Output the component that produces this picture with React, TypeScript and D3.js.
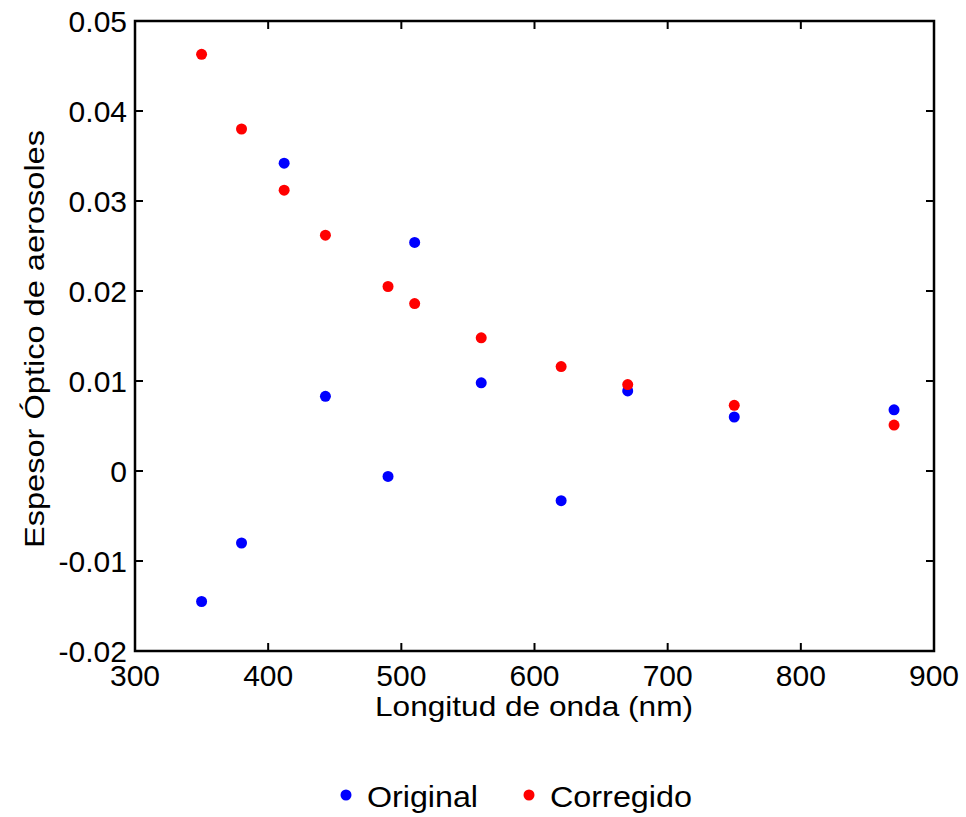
import React, { useEffect, useRef } from 'react'
import * as d3 from 'd3'

const wavelengths = [350, 380, 412, 443, 490, 510, 560, 620, 670, 750, 870]
const original = [-0.0145, -0.008, 0.0342, 0.0083, -0.0006, 0.0254, 0.0098, -0.0033, 0.0089, 0.006, 0.0068]
const corregido = [0.0463, 0.038, 0.0312, 0.0262, 0.0205, 0.0186, 0.0148, 0.0116, 0.0096, 0.0073, 0.0051]
const xTicks = [300, 400, 500, 600, 700, 800, 900]
const yTicks = [-0.02, -0.01, 0, 0.01, 0.02, 0.03, 0.04, 0.05]

const W = 966
const H = 817
const FONT = '"Liberation Sans", Arial, sans-serif'

const x = d3.scaleLinear().domain([300, 900]).range([135, 934])
const y = d3.scaleLinear().domain([-0.02, 0.05]).range([651, 21])

const App = () => {
  const ref = useRef<SVGSVGElement>(null)

  useEffect(() => {
    const svg = d3.select(ref.current)
    svg.selectAll('*').remove()

    const [x0, x1] = x.range()
    const [y0, y1] = y.range()
    const tick = 8

    // box
    svg
      .append('rect')
      .attr('x', x0)
      .attr('y', y1)
      .attr('width', x1 - x0)
      .attr('height', y0 - y1)
      .attr('fill', 'none')
      .attr('stroke', 'black')
      .attr('stroke-width', 2.5)

    // ticks inside on all four sides
    const g = svg.append('g').attr('stroke', 'black').attr('stroke-width', 2)
    xTicks.forEach((t) => {
      g.append('line').attr('x1', x(t)).attr('x2', x(t)).attr('y1', y0).attr('y2', y0 - tick)
      g.append('line').attr('x1', x(t)).attr('x2', x(t)).attr('y1', y1).attr('y2', y1 + tick)
    })
    yTicks.forEach((t) => {
      g.append('line').attr('x1', x0).attr('x2', x0 + tick).attr('y1', y(t)).attr('y2', y(t))
      g.append('line').attr('x1', x1).attr('x2', x1 - tick).attr('y1', y(t)).attr('y2', y(t))
    })

    svg
      .append('g')
      .selectAll('text')
      .data(xTicks)
      .join('text')
      .attr('x', (d) => x(d))
      .attr('y', 686)
      .attr('text-anchor', 'middle')
      .attr('font-family', FONT)
      .attr('font-size', 30)
      .text((d) => d)

    svg
      .append('g')
      .selectAll('text')
      .data(yTicks)
      .join('text')
      .attr('x', 127)
      .attr('y', (d) => y(d))
      .attr('dy', '0.36em')
      .attr('text-anchor', 'end')
      .attr('font-family', FONT)
      .attr('font-size', 30)
      .text((d) => (d === 0 ? '0' : d3.format('.2f')(d).replace('−', '-')))

    svg
      .append('text')
      .attr('x', 375)
      .attr('y', 716)
      .attr('font-family', FONT)
      .attr('font-size', 28)
      .attr('textLength', 318)
      .attr('lengthAdjust', 'spacingAndGlyphs')
      .text('Longitud de onda (nm)')

    svg
      .append('text')
      .attr('transform', `translate(44,548) rotate(-90)`)
      .attr('font-family', FONT)
      .attr('font-size', 28)
      .attr('textLength', 418)
      .attr('lengthAdjust', 'spacingAndGlyphs')
      .text('Espesor Óptico de aerosoles')

    const series = [
      { name: 'Original', values: original, color: '#0000ff', lx: 346, tw: 111 },
      { name: 'Corregido', values: corregido, color: '#ff0000', lx: 529, tw: 142 },
    ]

    series.forEach((s) => {
      svg
        .append('g')
        .selectAll('circle')
        .data(s.values)
        .join('circle')
        .attr('cx', (d, i) => x(wavelengths[i]))
        .attr('cy', (d) => y(d))
        .attr('r', 5.5)
        .attr('fill', s.color)
    })

    // legend
    series.forEach((s) => {
      svg
        .append('circle')
        .attr('cx', s.lx)
        .attr('cy', 795)
        .attr('r', 5.5)
        .attr('fill', s.color)
      svg
        .append('text')
        .attr('x', s.lx + 21)
        .attr('y', 807)
        .attr('font-family', FONT)
        .attr('font-size', 30)
        .attr('textLength', s.tw)
        .attr('lengthAdjust', 'spacingAndGlyphs')
        .text(s.name)
    })
  })

  return (
    <svg
      ref={ref}
      width={W}
      height={H}
      style={{ position: 'absolute', left: 0, top: 0, background: 'white' }}
    ></svg>
  )
}

export default App
